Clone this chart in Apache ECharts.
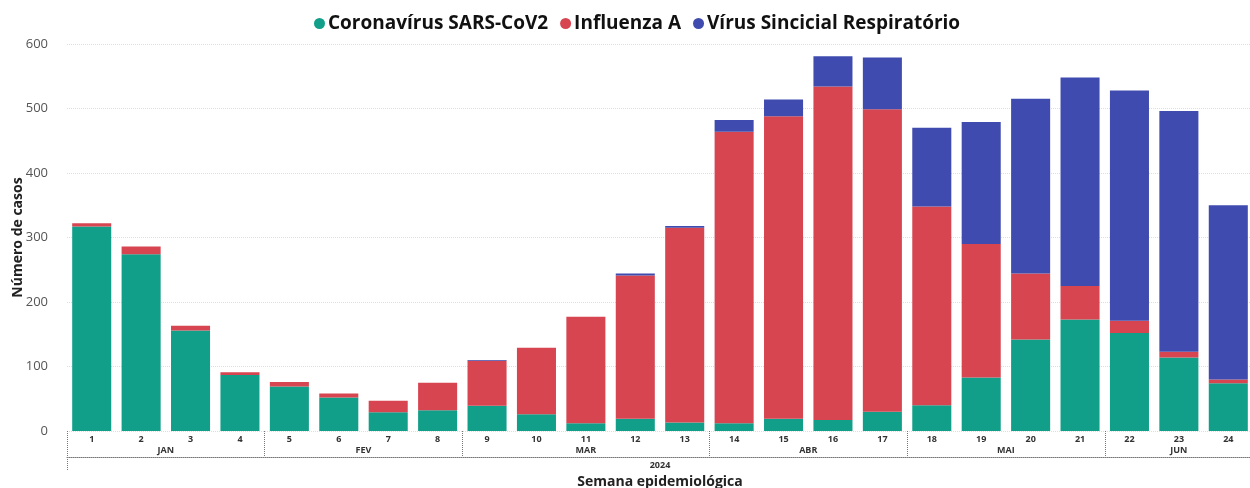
<!DOCTYPE html>
<html>
<head>
<meta charset="utf-8">
<script src="https://cdn.jsdelivr.net/npm/echarts@6/dist/echarts.min.js"></script>
<style>
  html, body { margin: 0; padding: 0; background: #fff; }
  #chart { width: 1250px; height: 488px; }
</style>
</head>
<body>
<div id="chart"></div>
<script>
const weeks = ['1','2','3','4','5','6','7','8','9','10','11','12','13','14','15','16','17','18','19','20','21','22','23','24']
const covid = [317, 274, 156, 87, 69, 52, 29, 32, 39, 26, 12, 19, 13, 12, 19, 17, 30, 40, 83, 142, 173, 152, 114, 74]
const fluA = [5, 12, 7, 4, 7, 6, 18, 43, 70, 103, 165, 222, 302, 452, 469, 517, 469, 308, 207, 102, 52, 19, 9, 6]
const vsr = [0, 0, 0, 0, 0, 0, 0, 0, 1, 0, 0, 3, 3, 18, 26, 47, 80, 122, 189, 271, 323, 357, 373, 270]
const months = ['JAN', 'FEV', 'MAR', 'ABR', 'MAI', 'JUN']
const monthStart = [0, 4, 8, 13, 17, 21]
const monthEnd = [4, 8, 13, 17, 21, 24]
const yearLabel = '2024'

const monthCenters = months.map((m, i) => (monthStart[i] + monthEnd[i]) / 2)

const chart = echarts.init(document.getElementById('chart'))
const font = "'Open Sans', 'Noto Sans', sans-serif"
const dotted = { type: 'dotted', color: '#777', width: 1 }

const option = {
  animation: false,
  textStyle: { fontFamily: font },
  legend: {
    top: 9,
    left: 309,
    icon: 'circle',
    itemWidth: 11,
    itemHeight: 11,
    itemGap: 12,
    textStyle: { fontSize: 19, fontWeight: 'bold', color: '#111', fontFamily: font, padding: [0, 0, 0, -2] }
  },
  grid: { left: 67, right: -3, top: 44, bottom: 57, outerBoundsMode: 'none', containLabel: false },
  xAxis: [
    {
      type: 'category',
      data: weeks,
      axisLine: { show: false },
      axisTick: { show: false },
      axisLabel: { fontSize: 9, fontWeight: 'bold', color: '#333', margin: 4 }
    },
    {
      type: 'value',
      min: 0,
      max: 24,
      position: 'bottom',
      splitLine: { show: false },
      axisLine: { show: false },
      axisTick: { show: true, customValues: monthStart, length: 25, lineStyle: dotted },
      axisLabel: {
        customValues: monthCenters,
        formatter: v => months[monthCenters.indexOf(v)],
        fontSize: 9, fontWeight: 'bold', color: '#333', margin: 15
      }
    },
    {
      type: 'value',
      min: 0,
      max: 24,
      position: 'bottom',
      offset: 26,
      splitLine: { show: false },
      axisLine: { show: true, lineStyle: dotted },
      axisTick: { show: true, customValues: [0], length: 13, lineStyle: dotted },
      axisLabel: {
        customValues: [12],
        formatter: () => yearLabel,
        fontSize: 9, fontWeight: 'bold', color: '#333', margin: 4
      },
      name: 'Semana epidemiológica',
      nameLocation: 'middle',
      nameGap: 18,
      nameTextStyle: { fontSize: 14, fontWeight: 'bold', color: '#222' }
    }
  ],
  yAxis: {
    type: 'value',
    min: 0,
    max: 600,
    interval: 100,
    axisLine: { show: false },
    axisTick: { show: false },
    axisLabel: { fontSize: 13, color: '#555', margin: 19 },
    splitLine: { lineStyle: { type: 'dotted', color: '#dedede' } },
    name: 'Número de casos',
    nameLocation: 'middle',
    nameGap: 42,
    nameMoveOverlap: false,
    nameTextStyle: { fontSize: 14, fontWeight: 'bold', color: '#222' }
  },
  series: [
    { name: 'Coronavírus SARS-CoV2', type: 'bar', stack: 'total', data: covid, barCategoryGap: '21%', itemStyle: { color: '#129f8a' } },
    { name: 'Influenza A', type: 'bar', stack: 'total', data: fluA, itemStyle: { color: '#d64550' } },
    { name: 'Vírus Sincicial Respiratório', type: 'bar', stack: 'total', data: vsr, itemStyle: { color: '#3f4bae' } }
  ]
}

chart.setOption(option)
window.addEventListener('resize', () => chart.resize())
</script>
</body>
</html>
